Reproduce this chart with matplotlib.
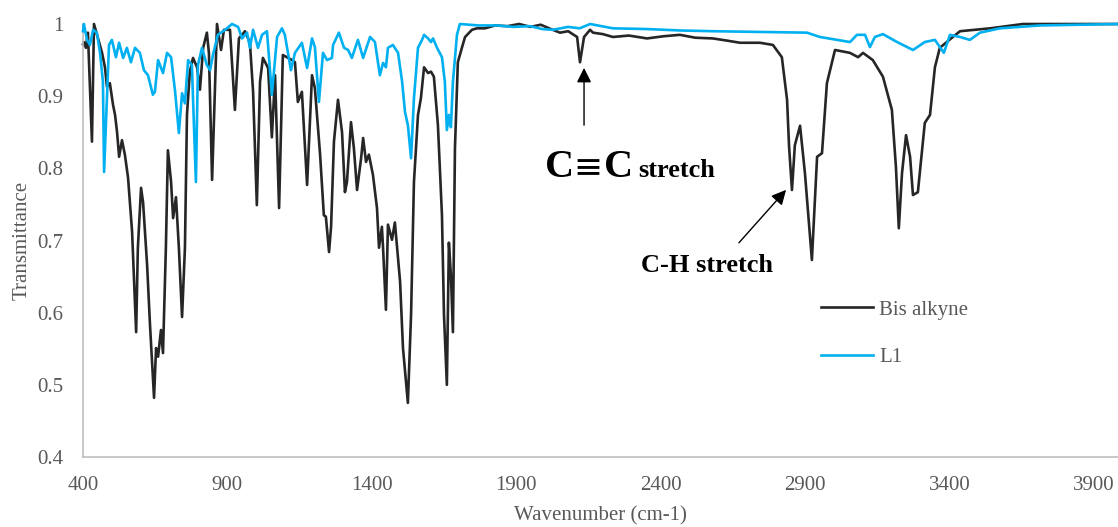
import numpy as np
import matplotlib
matplotlib.use("Agg")
import matplotlib.pyplot as plt

# wavenumber (cm-1) / transmittance
bis_wn = [400, 403, 410, 417, 431, 438, 452, 466, 476, 483, 493, 504, 511, 518, 525,
          535, 545, 556, 570, 584, 590, 601, 608, 622, 632, 646, 653, 660, 670, 677,
          687, 694, 705, 712, 722, 732, 743, 753, 760, 770, 781, 795, 805, 816, 829,
          836, 847, 864, 878, 888, 909, 926, 940, 961, 978, 989, 1002, 1013, 1023, 1041,
          1054, 1065, 1079, 1092, 1106, 1124, 1134, 1144, 1158, 1176, 1193, 1203, 1221, 1234, 1241,
          1252, 1259, 1269, 1283, 1297, 1307, 1314, 1328, 1338, 1349, 1363, 1370, 1380, 1390, 1404,
          1418, 1425, 1435, 1439, 1449, 1456, 1470, 1480, 1498, 1508, 1525, 1536, 1546, 1560, 1570,
          1581, 1595, 1605, 1615, 1629, 1643, 1650, 1660, 1667, 1674, 1681, 1688, 1698, 1712, 1723,
          1747, 1764, 1792, 1827, 1870, 1910, 1950, 1985, 2020, 2052, 2080, 2111, 2121, 2135,
          2156, 2166, 2200, 2235, 2290, 2353, 2410, 2467, 2520, 2581, 2630, 2675, 2744, 2789, 2820,
          2838, 2845, 2855, 2865, 2883, 2900, 2924, 2942, 2959, 2976, 3004, 3056, 3084, 3101, 3135,
          3170, 3201, 3215, 3225, 3236, 3250, 3264, 3274, 3291, 3315, 3333, 3350, 3367, 3412, 3437,
          3541, 3655, 3828, 3990]
bis_t = [0.972, 0.975, 0.967, 0.988, 0.837, 1.0, 0.98, 0.96, 0.94, 0.913, 0.918, 0.888, 0.874, 0.85, 0.816,
         0.839, 0.819, 0.787, 0.712, 0.573, 0.69, 0.773, 0.753, 0.666, 0.583, 0.482, 0.551, 0.539, 0.576, 0.544,
         0.69, 0.825, 0.781, 0.731, 0.76, 0.69, 0.594, 0.69, 0.874, 0.934, 0.953, 0.94, 0.909, 0.967, 0.988,
         0.96, 0.784, 1.0, 0.964, 0.992, 0.992, 0.881, 0.98, 0.99, 0.974, 0.906, 0.749, 0.92, 0.953, 0.939,
         0.843, 0.929, 0.745, 0.957, 0.954, 0.95, 0.947, 0.892, 0.906, 0.777, 0.929, 0.911, 0.819, 0.735, 0.733,
         0.684, 0.719, 0.837, 0.895, 0.85, 0.767, 0.781, 0.864, 0.828, 0.77, 0.814, 0.842, 0.809, 0.819, 0.791,
         0.745, 0.69, 0.719, 0.69, 0.604, 0.722, 0.701, 0.725, 0.643, 0.551, 0.475, 0.597, 0.781, 0.874, 0.897,
         0.94, 0.932, 0.934, 0.927, 0.86, 0.735, 0.597, 0.5, 0.697, 0.652, 0.573, 0.828, 0.947, 0.967, 0.982,
         0.992, 0.994, 0.994, 0.998, 0.997, 1.0, 0.996, 0.999, 0.993, 0.988, 0.99, 0.982, 0.947, 0.982,
         0.992, 0.988, 0.986, 0.982, 0.984, 0.98, 0.983, 0.985, 0.981, 0.98, 0.977, 0.974, 0.974, 0.971, 0.954,
         0.895, 0.83, 0.77, 0.832, 0.859, 0.793, 0.673, 0.816, 0.821, 0.918, 0.964, 0.96, 0.954, 0.96, 0.95,
         0.927, 0.881, 0.802, 0.717, 0.793, 0.846, 0.816, 0.763, 0.767, 0.863, 0.874, 0.94, 0.967, 0.982, 0.99,
         0.994, 1.0, 1.0, 1.0]

l1_wn = [400, 403, 414, 424, 435, 448, 459, 469, 473, 483, 490, 500, 514, 525, 539,
         552, 566, 580, 597, 611, 625, 642, 649, 660, 677, 691, 705, 719, 732, 743,
         753, 764, 777, 791, 798, 812, 829, 840, 850, 867, 892, 916, 937, 951, 968,
         978, 989, 1006, 1020, 1037, 1054, 1072, 1089, 1099, 1120, 1134, 1158, 1176, 1193, 1203,
         1217, 1231, 1245, 1262, 1266, 1286, 1304, 1318, 1331, 1352, 1370, 1394, 1411, 1428, 1439,
         1449, 1456, 1473, 1491, 1505, 1515, 1525, 1536, 1546, 1560, 1574, 1581, 1595, 1605, 1612,
         1626, 1643, 1653, 1660, 1667, 1674, 1681, 1695, 1705, 1770, 1833, 1890, 1948, 1990, 2027,
         2080, 2120, 2156, 2235, 2353, 2470, 2581, 2744, 2907, 2952, 3056, 3080, 3108, 3125, 3142,
         3170, 3219, 3274, 3315, 3350, 3367, 3381, 3402, 3437, 3471, 3506, 3575, 3714, 3990]
l1_t = [0.99, 1.0, 0.978, 0.971, 0.992, 0.988, 0.96, 0.92, 0.795, 0.897, 0.971, 0.978, 0.954, 0.974, 0.953,
        0.967, 0.947, 0.967, 0.96, 0.936, 0.929, 0.902, 0.906, 0.95, 0.932, 0.96, 0.954, 0.906, 0.849, 0.904,
        0.89, 0.95, 0.943, 0.781, 0.943, 0.967, 0.943, 0.936, 0.957, 0.985, 0.992, 1.0, 0.996, 0.98, 0.988,
        0.967, 0.992, 0.967, 0.985, 0.99, 0.902, 0.982, 0.994, 0.985, 0.936, 0.96, 0.974, 0.939, 0.98, 0.968,
        0.892, 0.96, 0.95, 0.953, 0.971, 0.988, 0.967, 0.964, 0.953, 0.978, 0.953, 0.982, 0.975, 0.929, 0.946,
        0.94, 0.967, 0.971, 0.96, 0.92, 0.878, 0.86, 0.814, 0.897, 0.967, 0.978, 0.985, 0.98, 0.975, 0.98,
        0.967, 0.954, 0.92, 0.853, 0.874, 0.857, 0.92, 0.985, 1.0, 0.998, 0.998, 0.996, 0.997, 0.993, 0.992,
        0.996, 0.994, 1.0, 0.994, 0.993, 0.991, 0.99, 0.989, 0.988, 0.982, 0.975, 0.985, 0.985, 0.968, 0.982,
        0.986, 0.975, 0.964, 0.975, 0.978, 0.968, 0.96, 0.985, 0.982, 0.978, 0.988, 0.994, 0.998, 1.0]

x_ticks = [400, 900, 1400, 1900, 2400, 2900, 3400, 3900]
y_ticks = [0.4, 0.5, 0.6, 0.7, 0.8, 0.9, 1.0]
y_labels = ["0.4", "0.5", "0.6", "0.7", "0.8", "0.9", "1"]

serif = ["Liberation Serif", "DejaVu Serif"]
plt.rcParams["font.family"] = serif

fig = plt.figure(figsize=(11.18, 5.27), dpi=100)
ax = fig.add_axes([83 / 1118, 1 - 457 / 527, 1 - 83 / 1118, (457 - 24) / 527])

ax.plot(bis_wn, bis_t, color="#262626", lw=1.9, label="Bis alkyne", clip_on=False, zorder=2)
ax.plot(l1_wn, l1_t, color="#00b0f0", lw=1.9, label="L1", clip_on=False, zorder=3)

ax.set_xlim(400, 3984)
ax.set_ylim(0.4, 1.0)
ax.set_xticks(x_ticks)
ax.set_yticks(y_ticks)
ax.set_yticklabels(y_labels)
ax.tick_params(length=0, labelsize=15, labelcolor="#595959")
ax.tick_params(axis="x", pad=13.5)
ax.tick_params(axis="y", pad=14)

for s in ["top", "right"]:
    ax.spines[s].set_visible(False)
for s in ["left", "bottom"]:
    ax.spines[s].set_color("#bfbfbf")
    ax.spines[s].set_linewidth(1.2)

ax.set_xlabel("Wavenumber (cm-1)", fontsize=15, color="#595959", labelpad=8)
ax.set_ylabel("Transmittance", fontsize=15, color="#595959", labelpad=4)

leg = ax.legend(loc="upper left", bbox_to_anchor=(821 / 1118, 1 - 300 / 527),
                bbox_transform=fig.transFigure, frameon=False, fontsize=15,
                handlelength=2.5, handletextpad=0.3, labelspacing=1.35, borderpad=0,
                borderaxespad=0)
for t in leg.get_texts():
    t.set_color("#595959")

# annotations
ax.text(2000, 0.788, "C", fontsize=29, fontweight="bold", family=serif, va="baseline", ha="left")
ax.text(2150, 0.800, "\u2261", fontsize=25, family=["DejaVu Sans"], va="center", ha="center")
ax.text(2205, 0.788, "C", fontsize=29, fontweight="bold", family=serif, va="baseline", ha="left")
ax.text(2322, 0.788, "stretch", fontsize=19, fontweight="bold", family=serif, va="baseline", ha="left")
ax.annotate("", xy=(2135, 0.943), xytext=(2135, 0.856),
            arrowprops=dict(arrowstyle="-|>", color="black", lw=1, mutation_scale=22))

ax.text(2332, 0.657, "C-H stretch", fontsize=19, fontweight="bold", family=serif, va="baseline", ha="left")
ax.annotate("", xy=(2841, 0.773), xytext=(2665, 0.694),
            arrowprops=dict(arrowstyle="-|>", color="black", lw=1, mutation_scale=22))

plt.savefig("out.png", dpi=100)
